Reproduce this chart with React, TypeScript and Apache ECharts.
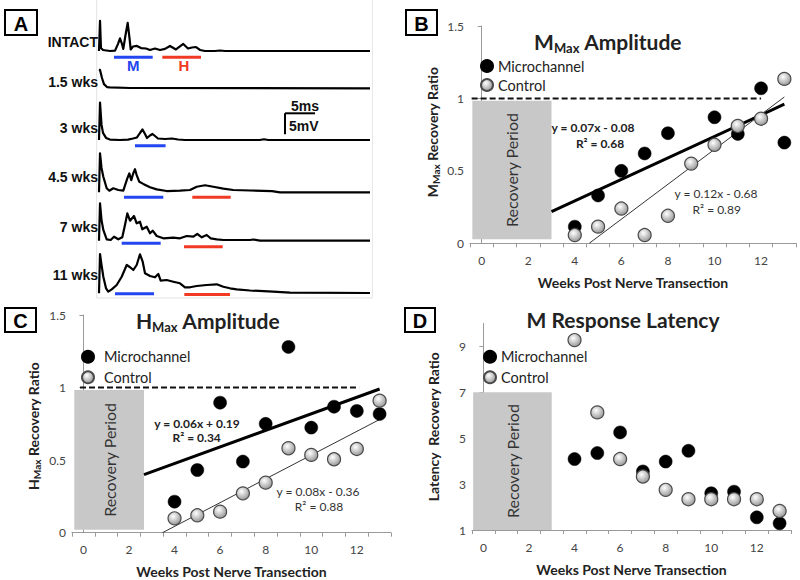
import { useEffect, useRef } from "react";
import * as echarts from "echarts";

// ---------- DATA ----------
const weeks = [4, 5, 6, 7, 8, 9, 10, 11, 12, 13];
const mmaxMicroWeeks = [4, 5, 6, 7, 8, 10, 11, 12, 13];
const mmaxMicro = [0.115, 0.33, 0.5, 0.62, 0.76, 0.87, 0.755, 1.07, 0.695];
const mmaxControl = [0.057, 0.115, 0.24, 0.057, 0.19, 0.55, 0.68, 0.81, 0.86, 1.135];
const hmaxMicro = [0.214, 0.432, 0.896, 0.49, 0.75, 1.28, 0.724, 0.868, 0.839, 0.818];
const hmaxControl = [0.099, 0.12, 0.145, 0.271, 0.345, 0.582, 0.536, 0.506, 0.577, 0.91];
const latMicro = [4.09, 4.35, 5.25, 3.55, 3.98, 4.45, 2.6, 2.67, 1.55, 1.29];
const latControl = [9.27, 6.12, 4.09, 3.33, 2.75, 2.34, 2.34, 2.34, 2.34, 1.83];

const mmaxMicroFit = [[3, 0.218], [13, 0.96]];
const mmaxControlFit = [[4.62, 0], [13, 1.01]];
const hmaxMicroFit = [[2.66, 0.4], [13, 0.99]];
const hmaxControlFit = [[3.47, 0], [13, 0.78]];
const mmaxIntactRef = [[-0.43, 1], [12, 1]];
const hmaxIntactRef = [[-0.15, 1], [12.1, 1]];
const recoveryB = [[-0.4, 0.028], [3, 0.984]];
const recoveryC = [[-0.4, 0.02], [2.66, 0.983]];
const recoveryD = [[-0.45, 1], [3, 7]];

const xTickValues = [-0.5, 0.5, 1.5, 2.5, 3.5, 4.5, 5.5, 6.5, 7.5, 8.5, 9.5, 10.5, 11.5, 12.5, 13.5];
const xLabelValues = [0, 2, 4, 6, 8, 10, 12];
const latTickValues = [1, 3, 5, 7, 9];

const eqB = ["y = 0.07x - 0.08", "R² = 0.68", "y = 0.12x - 0.68", "R² = 0.89"];
const eqC = ["y = 0.06x + 0.19", "R² = 0.34", "y = 0.08x - 0.36", "R² = 0.88"];

// Traces: [time ms, mV]
const traceNames = ["INTACT", "1.5 wks", "3 wks", "4.5 wks", "7 wks", "11 wks"];
const traceIntact = [[0, 0], [0.17, 7.2], [0.33, 0.7], [0.67, 0.24], [1.83, 0], [2.67, 0.1], [3.17, 1.7], [3.5, 3.0], [3.83, 1.7], [4.05, 0.5], [4.42, 3.8], [4.78, 6.7], [5.08, 3.1], [5.28, 0.36], [5.67, 1.07], [6.33, 1.2], [7, 0.7], [7.83, 0.6], [8.5, 0.24], [9.33, 0.6], [10.17, 0.24], [11, 0.5], [11.83, 1.2], [12.83, 0.36], [14.05, 1.67], [14.83, 0.6], [15.5, 0.83], [16.17, 0.95], [16.83, 0.24], [17.67, 0], [19.3, 0], [20.2, 0.12], [21, 0], [45.17, 0]];
const trace15 = [[0, 4.5], [0.17, 4.36], [0.5, 2.45], [0.83, 1.0], [1.33, 0.3], [1.83, 0.24], [5.17, 0.07], [45.17, 0]];
const trace3 = [[0, 0], [0.17, 8.9], [0.42, 3.6], [0.67, 1.7], [1.17, 0.5], [1.83, 0.1], [3.5, 0], [4.83, 0.1], [5.67, 0.36], [6.33, 0.6], [6.83, 1.67], [7.25, 2.5], [7.67, 1.43], [8, 0.48], [8.5, 1.07], [8.92, 1.43], [9.33, 0.95], [9.83, 0.36], [11, 0.24], [12.17, 0.36], [13.17, 0.12], [14.33, 0], [26.8, 0], [27.5, 0.17], [28.2, 0], [45.17, 0]];
const trace45 = [[0, 0], [0.17, 9.3], [0.42, 5.8], [0.72, 3.7], [1.28, 0.95], [1.72, 0.38], [2.38, 0.95], [3.22, 0.55], [4.05, 0.38], [4.42, 2.0], [4.72, 3.33], [5.05, 4.5], [5.38, 2.9], [5.67, 4.36], [6, 5.5], [6.28, 4.1], [6.72, 2.5], [7.38, 2.0], [8.5, 1.2], [9.62, 0.7], [11.28, 0.3], [13.5, 0.38], [15.17, 0.55], [16.28, 1.33], [17.67, 1.67], [19.05, 1.33], [20.72, 0.86], [22.38, 0.55], [25.17, 0.43], [28.83, 0.3], [30.17, 0], [45.17, 0]];
const trace7 = [[0, 0], [0.17, 8.9], [0.42, 4.9], [0.72, 2.55], [1.28, 0.33], [1.95, 0.17], [2.5, 0.95], [3.22, 0.33], [3.88, 0.81], [4.33, 3.74], [4.72, 6.5], [5.17, 4.76], [5.83, 5.88], [6.28, 4.14], [6.83, 4.52], [7.22, 2.71], [7.95, 3.33], [8.5, 1.76], [8.95, 2.38], [9.62, 1.12], [10.72, 0.57], [12.38, 0.71], [13.5, 0.57], [14.62, 1.12], [15.72, 0.95], [16.38, 1.6], [17.12, 0.81], [17.95, 1.36], [18.62, 0.57], [19.62, 0.33], [20.72, 0.17], [25.17, 0.17], [25.7, 0.29], [26.83, 0], [45.17, 0]];
const trace11 = [[0, 0], [0.17, 9.36], [0.42, 6.74], [0.72, 3.95], [1.17, 1.19], [1.55, 0.38], [2.12, 0.95], [2.95, 1.98], [3.78, 3.95], [4.62, 6.74], [5.05, 6.33], [5.72, 5.55], [6.28, 6.74], [6.83, 9.29], [7.28, 7.52], [7.67, 4.76], [8.5, 4.12], [9.33, 3.81], [9.88, 4.6], [10.28, 3.0], [11.28, 3.17], [12.38, 2.76], [13.5, 2.38], [14.33, 1.43], [15.17, 1.43], [16.28, 1.74], [17.95, 1.98], [19.62, 2.14], [20.72, 1.57], [21.83, 1.19], [22.95, 0.95], [25.17, 0.67], [29, 0.38], [31.83, 0.14], [45.17, 0.07]];
const traces = [traceIntact, trace15, trace3, trace45, trace7, trace11];
const mWindows = [[2.5, 8.95], null, [6.0, 11.1], [4.17, 10.72], [3.78, 10.28], [2.67, 9.17]];
const hWindows = [[10.55, 17.0], null, null, [15.55, 21.95], [14.17, 20.62], [14.22, 21.83]];

// ---------- LAYOUT ----------
const FONT = "Lato, 'Open Sans', sans-serif";
const ARIAL = "'Liberation Sans', Arial, sans-serif";
const PX_PER_MS = 6;
const PX_PER_MV = 4.2;
const TRACE_LEFT = 99;
const TRACE_WIDTH = 271;
const traceBaselines = [51, 88.3, 140, 192.3, 240.7, 293.3];
const traceLabelY = [41.7, 81.7, 128.3, 176.7, 227.3, 275];
const mLevel = [-1.5, 0, -1.36, -1.19, -0.62, -0.1];
const hLevel = [-1.5, 0, 0, -1.19, -1.43, -0.3];
const BLUE = "#2346f0";
const RED = "#f03a24";

const microStyle = { color: "#000", borderColor: "#000", borderWidth: 0.5, opacity: 1 };
const controlStyle = () => ({
  color: new echarts.graphic.RadialGradient(0.4, 0.35, 0.75, [
    { offset: 0, color: "#ffffff" },
    { offset: 1, color: "#8a8a8a" },
  ]),
  borderColor: "#4a4a4a",
  borderWidth: 1.2,
  opacity: 1,
});

function xAxisFor(gridIndex: number) {
  return {
    type: "value",
    gridIndex,
    min: -0.5,
    max: 13.5,
    axisLine: { show: true, lineStyle: { color: "#9a9a9a", width: 1 } },
    axisTick: { show: true, length: 4, lineStyle: { color: "#9a9a9a" }, customValues: xTickValues },
    axisLabel: { customValues: xLabelValues, color: "#444", fontFamily: FONT, fontSize: 12, margin: 11 },
    splitLine: { show: false },
    name: "Weeks Post Nerve Transection",
    nameLocation: "middle",
    nameGap: 32,
    nameTextStyle: { fontFamily: FONT, fontWeight: "bold", fontSize: 14, color: "#222" },
  };
}

function yAxisFor(gridIndex: number, extra: any) {
  return {
    type: "value",
    gridIndex,
    axisLine: { show: true, lineStyle: { color: "#9a9a9a", width: 1 } },
    axisTick: { show: true, length: 4, lineStyle: { color: "#9a9a9a" }, ...(extra.tick || {}) },
    axisLabel: { color: "#444", fontFamily: FONT, fontSize: 12, margin: 6, ...(extra.label || {}) },
    splitLine: { show: false },
    min: extra.min,
    max: extra.max,
    interval: extra.interval,
  };
}

function recoveryArea(box: number[][]) {
  return {
    silent: true,
    itemStyle: { color: "#c8c8c8" },
    label: {
      show: true,
      position: "inside",
      rotate: 90,
      formatter: "Recovery Period",
      fontFamily: FONT,
      fontSize: 16,
      color: "#333",
    },
    data: [[{ coord: box[0] }, { coord: box[1] }]],
  };
}

function panelSeries(gi: number, opts: any) {
  const out: any[] = [];
  out.push({
    type: "line",
    name: "ref" + gi,
    xAxisIndex: gi,
    yAxisIndex: gi,
    data: opts.ref || [],
    symbol: "none",
    silent: true,
    lineStyle: { color: "#111", width: 2, type: [6, 3] },
    markArea: recoveryArea(opts.box),
    z: 1,
  });
  if (opts.microFit) {
    out.push({ type: "line", name: "fitM" + gi, xAxisIndex: gi, yAxisIndex: gi, data: opts.microFit, symbol: "none", lineStyle: { color: "#000", width: 3 }, z: 2 });
    out.push({ type: "line", name: "fitC" + gi, xAxisIndex: gi, yAxisIndex: gi, data: opts.controlFit, symbol: "none", lineStyle: { color: "#333", width: 1 }, z: 2 });
  }
  out.push({ type: "scatter", name: "Microchannel", xAxisIndex: gi, yAxisIndex: gi, data: opts.micro, symbolSize: 13, itemStyle: microStyle, z: 4 });
  out.push({ type: "scatter", name: "Control", xAxisIndex: gi, yAxisIndex: gi, data: opts.control, symbolSize: 13, itemStyle: controlStyle(), z: 5 });
  return out;
}

function legendAt(cx: number, cy: number, rowStep: number, textPad: number) {
  const size = 12;
  return {
    data: ["Microchannel", "Control"],
    orient: "vertical",
    left: cx - size / 2,
    top: cy - 7.5,
    padding: 0,
    itemWidth: size,
    itemHeight: size,
    itemGap: rowStep - 15,
    icon: "circle",
    selectedMode: false,
    textStyle: { fontFamily: FONT, fontSize: 14.5, color: "#222", padding: [0, 0, 0, textPad] },
  };
}

function txt(x: number, y: number, text: string, o: any = {}) {
  return {
    type: "text",
    x,
    y,
    rotation: o.rotation || 0,
    silent: true,
    style: {
      text,
      fill: o.fill || "#222",
      fontFamily: o.fontFamily || FONT,
      fontSize: o.fontSize || 12,
      fontWeight: o.fontWeight || "normal",
      textAlign: o.align || "center",
      textVerticalAlign: "middle",
      rich: o.rich,
    },
    z: 10,
  };
}

function letterBox(x: number, y: number, w: number, h: number, letter: string) {
  return [
    { type: "rect", shape: { x, y, width: w, height: h }, style: { fill: "#fff", stroke: "#000", lineWidth: 2 }, silent: true, z: 10 },
    txt(x + w / 2, y + h / 2 + 1, letter, { fontFamily: ARIAL, fontSize: 20, fontWeight: "bold", fill: "#000" }),
  ];
}

const titleRich = {
  a: { fontFamily: FONT, fontWeight: "bold", fontSize: 21, lineHeight: 26, color: "#111" },
  s: { fontFamily: FONT, fontWeight: "bold", fontSize: 13, lineHeight: 12, verticalAlign: "bottom", color: "#111" },
};
const nameRich = {
  b: { fontFamily: FONT, fontWeight: "bold", fontSize: 14, lineHeight: 18, color: "#222" },
  s: { fontFamily: FONT, fontWeight: "bold", fontSize: 10, lineHeight: 9, verticalAlign: "bottom", color: "#222" },
};

function buildOption() {
  const grids: any[] = [
    { left: 470, top: 26, width: 326, height: 217.3 },
    { left: 72, top: 315, width: 319, height: 217.7 },
    { left: 472, top: 323.3, width: 319, height: 206.7 },
  ];
  const xAxes: any[] = [xAxisFor(0), xAxisFor(1), xAxisFor(2)];
  const yAxes: any[] = [
    yAxisFor(0, { min: 0, max: 1.5, interval: 0.5 }),
    yAxisFor(1, { min: 0, max: 1.5, interval: 0.5 }),
    yAxisFor(2, { min: 1, max: 10, label: { customValues: latTickValues }, tick: { customValues: latTickValues } }),
  ];

  const series: any[] = [
    ...panelSeries(0, {
      ref: mmaxIntactRef,
      box: recoveryB,
      microFit: mmaxMicroFit,
      controlFit: mmaxControlFit,
      micro: mmaxMicroWeeks.map((w, i) => [w, mmaxMicro[i]]),
      control: weeks.map((w, i) => [w, mmaxControl[i]]),
    }),
    ...panelSeries(1, {
      ref: hmaxIntactRef,
      box: recoveryC,
      microFit: hmaxMicroFit,
      controlFit: hmaxControlFit,
      micro: weeks.map((w, i) => [w, hmaxMicro[i]]),
      control: weeks.map((w, i) => [w, hmaxControl[i]]),
    }),
    ...panelSeries(2, {
      ref: [],
      box: recoveryD,
      micro: weeks.map((w, i) => [w, latMicro[i]]),
      control: weeks.map((w, i) => [w, latControl[i]]),
    }),
  ];

  // Panel A traces
  traces.forEach((tr, i) => {
    const gi = 3 + i;
    grids.push({ left: TRACE_LEFT, top: traceBaselines[i] - 10 * PX_PER_MV, width: TRACE_WIDTH, height: 12 * PX_PER_MV });
    xAxes.push({ type: "value", gridIndex: gi, min: 0, max: TRACE_WIDTH / PX_PER_MS, show: false });
    yAxes.push({ type: "value", gridIndex: gi, min: -2, max: 10, show: false });
    series.push({
      type: "line",
      name: traceNames[i],
      xAxisIndex: gi,
      yAxisIndex: gi,
      data: tr,
      symbol: "none",
      lineStyle: { color: "#000", width: 2.2, join: "round" },
      z: 3,
    });
    const mw = mWindows[i];
    if (mw) {
      series.push({ type: "line", name: "M" + i, xAxisIndex: gi, yAxisIndex: gi, data: [[mw[0], mLevel[i]], [mw[1], mLevel[i]]], symbol: "none", lineStyle: { color: BLUE, width: 3 }, z: 3 });
    }
    const hw = hWindows[i];
    if (hw) {
      series.push({ type: "line", name: "H" + i, xAxisIndex: gi, yAxisIndex: gi, data: [[hw[0], hLevel[i]], [hw[1], hLevel[i]]], symbol: "none", lineStyle: { color: RED, width: 3 }, z: 3 });
    }
  });

  const sbX = 285;
  const sbY = 113.3;
  const rot = Math.PI / 2;
  const graphic: any[] = [
    // panel A frame
    { type: "line", shape: { x1: 96.7, y1: 0, x2: 96.7, y2: 298 }, style: { stroke: "#e2e2e2", lineWidth: 1 }, silent: true },
    { type: "line", shape: { x1: 96.7, y1: 298, x2: 372.5, y2: 298 }, style: { stroke: "#e2e2e2", lineWidth: 1 }, silent: true },
    { type: "line", shape: { x1: 372.5, y1: 0, x2: 372.5, y2: 298 }, style: { stroke: "#e8e8e8", lineWidth: 1 }, silent: true },
    ...letterBox(5, 10, 32, 25, "A"),
    ...letterBox(406, 10, 31, 25, "B"),
    ...letterBox(5, 308, 31, 24, "C"),
    ...letterBox(405, 308, 30, 24, "D"),
    ...traceNames.map((n, i) => txt(98, traceLabelY[i], n, { fontFamily: ARIAL, fontSize: 14, fontWeight: "bold", fill: "#111", align: "right" })),
    txt(133.3, 65, "M", { fontFamily: ARIAL, fontSize: 15, fontWeight: "bold", fill: BLUE }),
    txt(184, 65, "H", { fontFamily: ARIAL, fontSize: 15, fontWeight: "bold", fill: RED }),
    // scale bar: 5 ms x 5 mV
    { type: "line", shape: { x1: sbX, y1: sbY, x2: sbX + 5 * PX_PER_MS, y2: sbY }, style: { stroke: "#000", lineWidth: 2 }, silent: true },
    { type: "line", shape: { x1: sbX, y1: sbY, x2: sbX, y2: sbY + 5 * PX_PER_MV }, style: { stroke: "#000", lineWidth: 2 }, silent: true },
    txt(305, 105.5, "5ms", { fontFamily: ARIAL, fontSize: 14, fontWeight: "bold", fill: "#111" }),
    txt(289, 126, "5mV", { fontFamily: ARIAL, fontSize: 14, fontWeight: "bold", fill: "#111", align: "left" }),
    // titles
    txt(608, 41, "{a|M}{s|Max}{a| Amplitude}", { rich: titleRich }),
    txt(208, 320, "{a|H}{s|Max}{a| Amplitude}", { rich: titleRich }),
    txt(623, 319, "{a|M Response Latency}", { rich: titleRich }),
    // y axis names
    txt(432, 132, "{b|M}{s|Max}{b| Recovery Ratio}", { rich: nameRich, rotation: rot }),
    txt(33, 426, "{b|H}{s|Max}{b| Recovery Ratio}", { rich: nameRich, rotation: rot }),
    txt(433, 426.7, "{b|Latency  Recovery Ratio}", { rich: nameRich, rotation: rot }),
    // equations B
    txt(593, 127.7, eqB[0], { fontWeight: "bold", fontSize: 12, fill: "#222" }),
    txt(600, 143, eqB[1], { fontWeight: "bold", fontSize: 12, fill: "#222" }),
    txt(716, 193, eqB[2], { fontSize: 12, fill: "#333" }),
    txt(716.7, 209, eqB[3], { fontSize: 12, fill: "#333" }),
    // equations C
    txt(197, 423.3, eqC[0], { fontWeight: "bold", fontSize: 12, fill: "#222" }),
    txt(196.7, 437.5, eqC[1], { fontWeight: "bold", fontSize: 12, fill: "#222" }),
    txt(318, 491.7, eqC[2], { fontSize: 12, fill: "#333" }),
    txt(319, 506.7, eqC[3], { fontSize: 12, fill: "#333" }),
  ];

  return {
    animation: false,
    backgroundColor: "#fff",
    grid: grids,
    xAxis: xAxes,
    yAxis: yAxes,
    legend: [legendAt(486, 66, 19, 0), legendAt(87, 356.7, 20.6, 5), legendAt(489, 356.7, 20.6, 0)],
    series,
    graphic,
  };
}

export default function App() {
  const ref = useRef<HTMLDivElement>(null);
  useEffect(() => {
    const chart = echarts.init(ref.current!, null, { renderer: "svg" });
    chart.setOption(buildOption() as any);
    return () => chart.dispose();
  }, []);
  return <div ref={ref} style={{ position: "fixed", left: 0, top: 0, width: 800, height: 580, background: "#fff" }} />;
}
